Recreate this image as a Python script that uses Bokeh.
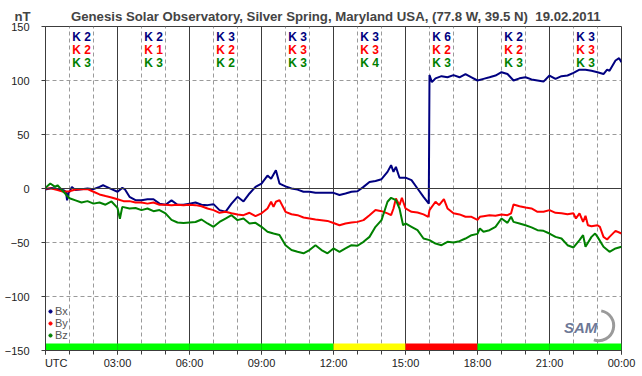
from bokeh.plotting import figure
from bokeh.models import (FixedTicker, Span, Label, Legend, LegendItem,
                          ColumnDataSource, Title)
from bokeh.core.properties import value
from bokeh.embed import file_html
from bokeh.resources import INLINE

# ---------------- data ----------------
bx_t = [0.0, 0.25, 0.5, 0.75, 0.85, 0.9, 0.95, 1.0, 1.1, 1.25, 1.5, 1.75, 2.0, 2.25, 2.4, 2.5, 2.75,
        3.0, 3.2, 3.3, 3.5, 3.75, 4.0, 4.25, 4.5, 4.75, 5.0, 5.25, 5.5, 5.75, 6.0, 6.25, 6.5, 6.75,
        7.0, 7.25, 7.5, 7.75, 8.0, 8.25, 8.5, 8.75, 9.0, 9.25, 9.4, 9.6, 9.75, 10.0, 10.25, 10.5,
        10.75, 11.0, 11.25, 11.5, 11.75, 12.0, 12.25, 12.5, 12.75, 13.0, 13.25, 13.5, 13.75, 14.0,
        14.25, 14.4, 14.5, 14.6, 14.75, 15.0, 15.25, 15.5, 15.75, 15.97, 16.0, 16.1, 16.25, 16.5,
        16.75, 17.0, 17.25, 17.5, 17.75, 18.0, 18.25, 18.5, 18.75, 19.0, 19.25, 19.5, 19.75, 20.0,
        20.25, 20.5, 20.75, 21.0, 21.25, 21.5, 21.75, 22.0, 22.25, 22.5, 22.75, 23.0, 23.25, 23.4,
        23.5, 23.75, 23.9, 24.0]
bx_v = [-1, 0.5, -0.5, -1.5, -3, -11, -4, -3, 1.5, -1.5, -0.6, 0, -0.6, 1.5, 3, 2, -0.6,
        -3, 0.6, -0.5, -7.7, -10.8, -10.8, -10, -10, -14, -15, -11, -15, -15, -14, -13, -15, -15.4,
        -14.5, -20, -21.6, -14, -7.7, -12, -4.6, 1.5, 4.6, 12, 9, 17, 4.6, 2, 0, -1,
        -3, -3, -4, -4, -4, -4, -6, -4.6, -3, -2.5, 1.5, 6, 7, 8.6,
        15.4, 21.6, 15.4, 20, 10, 10, 7.7, 0, -7.7, -14, 105, 98.5, 102, 104,
        103, 105, 103, 106, 103, 100, 101.5, 103, 104.6, 107.7, 106, 100, 102, 103,
        101, 100, 99, 104.6, 101.5, 104, 104.6, 107, 110, 110, 109, 107.7, 106, 110,
        109, 118.5, 120.7, 117]

by_t = [0.0, 0.25, 0.5, 0.75, 1.0, 1.25, 1.5, 1.75, 2.0, 2.25, 2.5, 2.75, 3.0, 3.25, 3.5, 3.75,
        4.0, 4.25, 4.5, 4.75, 5.0, 5.25, 5.5, 5.75, 6.0, 6.25, 6.5, 6.75, 7.0, 7.25, 7.5, 7.75,
        8.0, 8.25, 8.5, 8.75, 9.0, 9.25, 9.4, 9.5, 9.6, 9.75, 10.0, 10.25, 10.5, 10.75, 11.0,
        11.25, 11.5, 11.75, 12.0, 12.25, 12.5, 12.75, 13.0, 13.25, 13.5, 13.75, 14.0, 14.25,
        14.4, 14.5, 14.6, 14.75, 14.85, 15.0, 15.25, 15.5, 15.75, 15.95, 16.0, 16.25, 16.4,
        16.6, 16.75, 17.0, 17.25, 17.5, 17.75, 18.0, 18.1, 18.25, 18.5, 18.75, 19.0, 19.25,
        19.4, 19.5, 19.75, 20.0, 20.25, 20.5, 20.75, 21.0, 21.25, 21.5, 21.75, 22.0, 22.1,
        22.25, 22.4, 22.5, 22.6, 22.75, 23.0, 23.1, 23.25, 23.4, 23.5, 23.75, 24.0]
by_v = [0, 0, -1.5, -3, -2.5, -1, -0.6, -0.6, -3, -5.5, -7, -8.3, -10, -11.7, -11.7, -13,
        -13, -14, -13, -15, -15, -15.4, -15, -15.4, -15, -15.4, -16.4, -18.5, -20, -22.5, -21.6, -23,
        -24, -24.7, -22.5, -25.6, -23, -18.5, -12.3, -17, -12.3, -10.8, -21.6, -23.8, -24.7, -26.9, -27.8,
        -28.7, -29.3, -30, -32, -34, -32.4, -31.5, -30.9, -29.3, -24.7, -20, -21, -23,
        -24.7, -18.5, -9.3, -15.4, -8.6, -18.5, -21.6, -22.2, -24, -26.2, -20, -12.3, -15.4,
        -9.9, -18.5, -23, -24, -26.2, -26.2, -29, -26.2, -25.6, -24.7, -25.3, -24, -24.7,
        -23, -14.8, -16.4, -17.6, -18.5, -21.6, -21.6, -20, -22.5, -23, -23.8, -23, -27.8,
        -23, -30.9, -25.3, -34, -34.9, -34, -35.5, -44.8, -47.2, -44.8, -39.2, -41.7]

bz_t = [0.0, 0.2, 0.4, 0.5, 0.75, 1.0, 1.25, 1.5, 1.75, 2.0, 2.25, 2.5, 2.75, 3.0, 3.1, 3.2,
        3.5, 3.75, 4.0, 4.25, 4.5, 4.75, 5.0, 5.25, 5.5, 5.75, 6.0, 6.25, 6.5, 6.75, 7.0, 7.25,
        7.5, 7.75, 8.0, 8.25, 8.5, 8.75, 9.0, 9.25, 9.5, 9.75, 10.0, 10.25, 10.5, 10.75, 11.0,
        11.25, 11.5, 11.75, 12.0, 12.25, 12.5, 12.75, 13.0, 13.25, 13.5, 13.75, 14.0, 14.25,
        14.4, 14.6, 14.75, 14.9, 15.0, 15.25, 15.5, 15.75, 16.0, 16.25, 16.5, 16.75, 17.0,
        17.25, 17.5, 17.75, 18.0, 18.1, 18.25, 18.5, 18.75, 19.0, 19.25, 19.4, 19.5, 19.75,
        20.0, 20.25, 20.5, 20.75, 21.0, 21.25, 21.5, 21.75, 22.0, 22.25, 22.4, 22.5, 22.75,
        22.9, 23.0, 23.25, 23.5, 23.75, 24.0]
bz_v = [0.6, 4.6, 1.5, 3, -3, -9, -11, -13, -11.7, -14, -13, -15, -12, -18, -28, -17,
        -18.5, -18, -20, -18.5, -21, -20, -23, -29, -31.5, -32, -31.5, -31, -28.7, -32.4, -35.5, -31,
        -27.8, -24.7, -29.3, -27.8, -32.4, -31.8, -35.5, -40, -41.7, -43, -52.5, -57, -58.6, -60, -57,
        -52.5, -57, -60, -55.5, -58.6, -55.5, -52.5, -53, -49.4, -44.8, -35.5, -29.3, -12.3,
        -8.6, -10.8, -18.5, -34, -32.4, -35.5, -38.6, -46.3, -47.8, -51, -52.5, -49.4, -50,
        -48.8, -46.3, -43.2, -42, -37, -40, -38.6, -35.5, -27.8, -31.8, -26.2, -30.9, -32.4,
        -34, -36, -38.6, -39.2, -41.7, -44.8, -46.3, -52.5, -54.6, -47.8, -43.2, -54, -44.8,
        -41.7, -44.8, -54, -58.6, -55.5, -54]

# K indices per 3-hour interval
k_start = [0, 3, 6, 9, 12, 15, 18, 21]
k_bx = [2, 2, 3, 3, 3, 6, 2, 3]
k_by = [2, 1, 2, 3, 3, 2, 2, 3]
k_bz = [3, 3, 2, 3, 4, 3, 3, 3]

y_ticks = [-150, -100, -50, 0, 50, 100, 150]
x_ticks = [0, 3, 6, 9, 12, 15, 18, 21, 24]
x_tick_labels = ["UTC", "03:00", "06:00", "09:00", "12:00", "15:00", "18:00", "21:00", "00:00"]
series_names = ["Bx", "By", "Bz"]
unit_text = "nT"
title_text = "Genesis Solar Observatory, Silver Spring, Maryland USA, (77.8 W, 39.5 N)\u00a0 19.02.2011"

# ---------------- styling ----------------
FONT = "Liberation Sans"
C_BX, C_BY, C_BZ = "#000080", "#ff0000", "#008000"
GRID_DARK = "#3c3c3c"
GRID_DASH = "#9a9a9a"
NAN = float("nan")

p = figure(width=642, height=376, x_range=(0, 24), y_range=(-150, 150),
           output_backend="svg", toolbar_location=None,
           min_border_left=45, min_border_right=21, min_border_top=26, min_border_bottom=26,
           background_fill_color="white", border_fill_color="white")
# the unit label "nT" shares the title row (starting above the value axis labels)
p.title = Title(text=unit_text + "\u00a0" * 11 + title_text, align="left", offset=-31,
                text_font=FONT, text_font_style="bold", text_font_size="13.2px",
                text_color="#444444", standoff=5)
p.outline_line_color = GRID_DARK
p.outline_line_width = 1

# grids
p.xgrid.ticker = FixedTicker(ticks=x_ticks, minor_ticks=[h for h in range(25) if h % 3])
p.xgrid.grid_line_color = GRID_DARK
p.xgrid.grid_line_width = 1
p.xgrid.minor_grid_line_color = GRID_DASH
p.xgrid.minor_grid_line_dash = "4 3"
p.ygrid.ticker = FixedTicker(ticks=[t for t in y_ticks if t not in (0, -150, 150)])
p.ygrid.grid_line_color = GRID_DASH
p.ygrid.grid_line_dash = "4 3"
p.add_layout(Span(location=0, dimension="width", line_color=GRID_DARK, line_width=1))

# axes
p.yaxis.ticker = FixedTicker(ticks=y_ticks)
p.yaxis.major_tick_out = 4
p.yaxis.major_tick_in = 0
p.yaxis.minor_tick_out = 0
p.yaxis.minor_tick_in = 0
p.yaxis.axis_line_color = GRID_DARK
p.yaxis.major_tick_line_color = GRID_DARK
p.yaxis.major_label_text_font = FONT
p.yaxis.major_label_text_font_size = "11px"
p.yaxis.major_label_text_color = "#222222"
p.yaxis.major_label_standoff = 12

# the first tick label ("UTC") is padded so that it starts at the axis origin
overrides = {t: l for t, l in zip(x_ticks, x_tick_labels)}
overrides[x_ticks[0]] = "\u00a0" * 7 + x_tick_labels[0]
p.xaxis.ticker = FixedTicker(ticks=x_ticks, minor_ticks=list(range(25)))
p.xaxis.major_label_overrides = overrides
p.xaxis.major_tick_out = 4
p.xaxis.major_tick_in = 0
p.xaxis.minor_tick_out = 4
p.xaxis.minor_tick_in = 0
p.xaxis.axis_line_color = GRID_DARK
p.xaxis.major_tick_line_color = GRID_DARK
p.xaxis.minor_tick_line_color = GRID_DARK
p.xaxis.major_label_text_font = FONT
p.xaxis.major_label_text_font_size = "11px"
p.xaxis.major_label_text_color = "#222222"
p.xaxis.major_label_standoff = 2

# activity bar along the bottom (colour from the max K of each interval)
kmax = [max(a, b, c) for a, b, c in zip(k_bx, k_by, k_bz)]
bar_col = ["#00ff00" if k < 4 else ("#ffff00" if k == 4 else "#ff0000") for k in kmax]
p.quad(left=k_start, right=[s + 3 for s in k_start], bottom=-150, top=-143.5,
       fill_color=bar_col, line_color=None)

# data lines
p.line(bx_t, bx_v, line_color=C_BX, line_width=2)
p.line(by_t, by_v, line_color=C_BY, line_width=2)
p.line(bz_t, bz_v, line_color=C_BZ, line_width=2)

# K index labels
for vals, col, yv in ((k_bx, C_BX, 140.5), (k_by, C_BY, 128.5), (k_bz, C_BZ, 116.5)):
    src = ColumnDataSource(dict(x=[s + 1.5 for s in k_start], y=[yv] * len(k_start),
                                t=["K %d" % k for k in vals]))
    p.text(x="x", y="y", text="t", source=src, text_color=col, text_font=value(FONT),
           text_font_style="bold", text_font_size="12px", text_align="center",
           text_baseline="middle")

# legend with dot glyphs (proxy renderers, no visible points)
rs = [p.scatter([NAN], [NAN], marker="circle", size=4, color=c) for c in (C_BX, C_BY, C_BZ)]
legend = Legend(items=[LegendItem(label=n, renderers=[r]) for n, r in zip(series_names, rs)],
                location=(1, 9), spacing=0, padding=0, margin=0, glyph_width=8, glyph_height=12,
                label_height=12, label_standoff=1, label_text_font=FONT,
                label_text_font_size="11px", label_text_color="#555555",
                background_fill_alpha=0, border_line_alpha=0)
p.add_layout(legend)

# SAM logo (approximation)
p.arc(x=[23.05], y=[-127], radius=15, radius_units="screen", start_angle=-1.9,
      end_angle=1.4, line_color="#9a9a9a", line_width=3)
p.add_layout(Label(x=22.3, y=-128.7, text="SAM", text_align="center", text_baseline="middle",
                   text_font=FONT, text_font_style="bold italic", text_font_size="15px",
                   text_color="#6d7896"))

open("out.html", "w").write(file_html(p, INLINE))
